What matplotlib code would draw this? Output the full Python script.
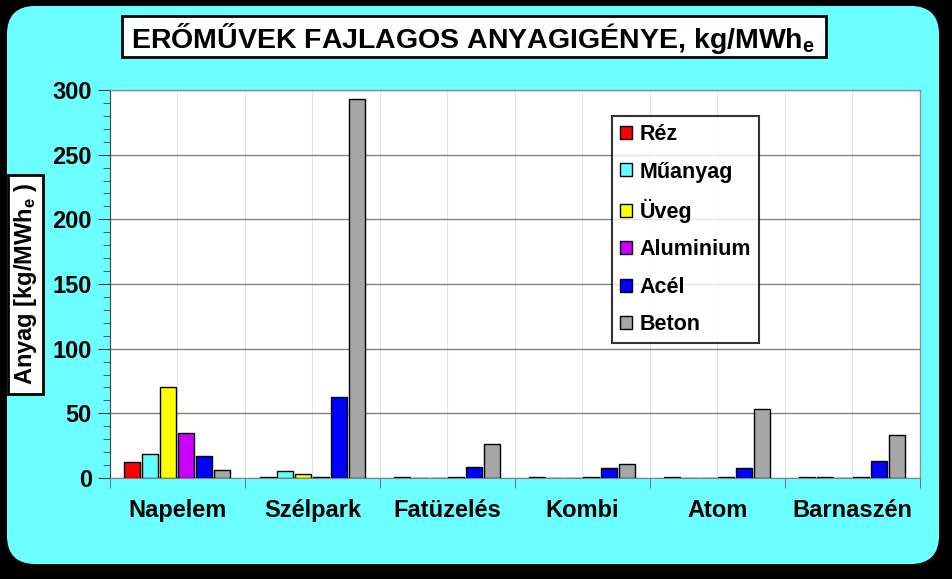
import matplotlib
matplotlib.use("Agg")
import matplotlib.pyplot as plt
import numpy as np
from matplotlib.patches import FancyBboxPatch, Rectangle
from matplotlib.ticker import MultipleLocator, FixedLocator

plt.rcParams["font.family"] = ["Liberation Sans", "DejaVu Sans"]
plt.rcParams["font.weight"] = "bold"
plt.rcParams["mathtext.fontset"] = "custom"
plt.rcParams["mathtext.rm"] = "Liberation Sans:bold"
plt.rcParams["mathtext.it"] = "Liberation Sans:bold"
plt.rcParams["mathtext.bf"] = "Liberation Sans:bold"

categories = ["Napelem", "Szélpark", "Fatüzelés", "Kombi", "Atom", "Barnaszén"]
materials = ["Réz", "Műanyag", "Üveg", "Aluminium", "Acél", "Beton"]
colors = ["#FF0000", "#66FFFF", "#FFFF00", "#CC00FF", "#0000FF", "#A6A6A6"]

# kg/MWh_e (one list per material, one value per plant type)
rez = [12.4, 0.5, 0.5, 0.5, 0.5, 0.5]
muanyag = [18.3, 5.4, 0, 0, 0, 0.5]
uveg = [70, 2.8, 0, 0, 0, 0]
aluminium = [35, 0.5, 0.5, 0.5, 0.5, 0.5]
acel = [16.8, 62.6, 8.3, 7.5, 7.5, 13]
beton = [6.2, 293, 26.3, 10.6, 53, 33]
values = [rez, muanyag, uveg, aluminium, acel, beton]

W, H = 953, 579
fig = plt.figure(figsize=(W / 100, H / 100), dpi=100, facecolor="black")


def fx(x):
    return x / W


def fy(y):
    return 1 - y / H


# cyan rounded panel behind everything
panel = FancyBboxPatch((fx(26), fy(545)), fx(894), (545 - 25) / H,
                       boxstyle="round,pad=0.02,rounding_size=0.03",
                       transform=fig.transFigure, facecolor="#6CFFFF",
                       edgecolor="none", mutation_aspect=W / H, zorder=-10)
fig.patches.append(panel)

ax = fig.add_axes([fx(110), fy(478), fx(920 - 110), (478 - 90) / H])
ax.set_facecolor("white")
ax.set_zorder(2)

x = np.arange(len(categories))
pitch = 18 / 135
width = 16 / 135
for i, (name, vals, col) in enumerate(zip(materials, values, colors)):
    ax.bar(x + (i - 2.5) * pitch, vals, width, color=col, edgecolor="black",
           linewidth=1.0, label=name, zorder=3)

ax.set_xlim(-0.5, len(categories) - 0.5)
ax.set_ylim(0, 300)
ax.yaxis.set_major_locator(MultipleLocator(50))
ax.yaxis.set_minor_locator(MultipleLocator(10))
ax.grid(axis="y", which="major", color="#808080", linewidth=1.0, zorder=1)

# light vertical lines at centres and boundaries
for v in np.arange(-0.5, len(categories), 0.5):
    ax.axvline(v, color="#E4E4E4", linewidth=0.8, zorder=0)

ax.set_xticks(x)
ax.set_xticklabels(categories, fontsize=17, fontweight="bold")
ax.xaxis.set_minor_locator(FixedLocator(np.arange(-0.5, len(categories), 1)))
ax.tick_params(axis="x", which="major", length=0, pad=15)
ax.tick_params(axis="x", which="minor", length=7, color="#606060", direction="out")
ax.tick_params(axis="y", which="both", direction="out", color="#404040")
ax.tick_params(axis="y", which="major", length=9, labelsize=17, pad=4)
ax.tick_params(axis="y", which="minor", length=5)
for lab in ax.get_yticklabels():
    lab.set_fontweight("bold")

for s in ["top", "right"]:
    ax.spines[s].set_color("#909090")
    ax.spines[s].set_linewidth(1.0)
ax.spines["left"].set_color("#404040")
ax.spines["bottom"].set_color("#808080")

leg = ax.legend(loc="upper left", bbox_to_anchor=(fx(612), fy(116)),
                bbox_transform=fig.transFigure, fontsize=15.5, frameon=True,
                fancybox=False, edgecolor="black", labelspacing=0.76,
                handlelength=0.55, handleheight=0.55, handletextpad=0.35,
                borderpad=0.38, borderaxespad=0)
leg.get_frame().set_linewidth(1.5)
leg.set_zorder(5)
for t in leg.get_texts():
    t.set_fontweight("bold")

# title box
fig.patches.append(Rectangle((fx(122), fy(57)), fx(826 - 122), (57 - 16) / H,
                             transform=fig.transFigure, facecolor="white",
                             edgecolor="black", linewidth=2))
fig.text(fx(473), fy(38), r"ERŐMŰVEK FAJLAGOS ANYAGIGÉNYE, kg/MWh$_\mathregular{e}$",
         ha="center", va="center", fontsize=20.5, fontweight="bold")

# y label box
fig.patches.append(Rectangle((fx(8), fy(394)), fx(43 - 8), (394 - 175) / H,
                             transform=fig.transFigure, facecolor="white",
                             edgecolor="black", linewidth=2))
fig.text(fx(26), fy(284), r"Anyag [kg/MWh$_\mathregular{e}$ )", rotation=90,
         ha="center", va="center", fontsize=17, fontweight="bold")

fig.savefig("out.png", dpi=100, facecolor="black")
